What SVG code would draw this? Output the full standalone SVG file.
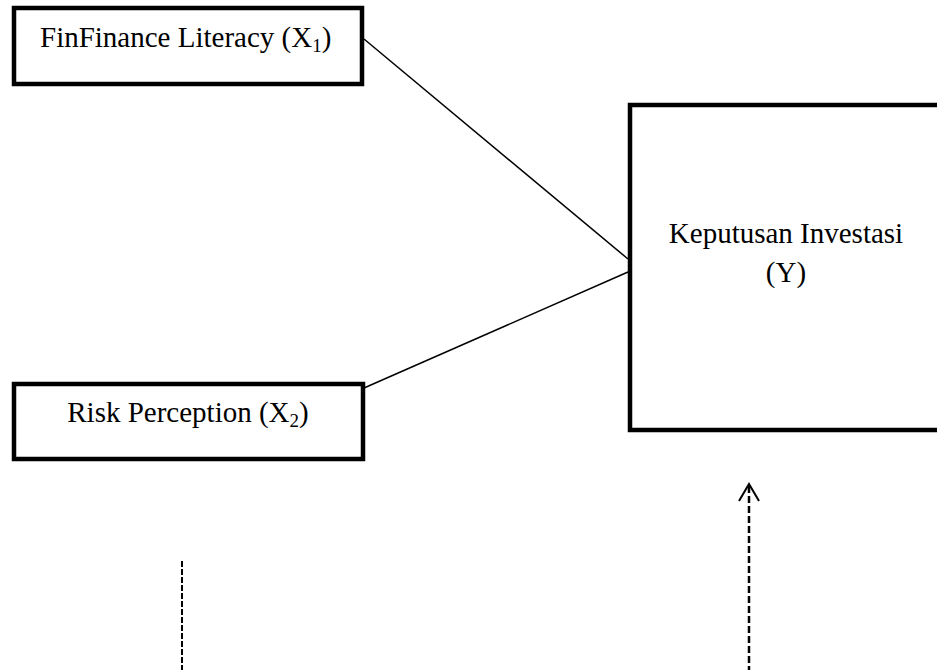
<svg xmlns="http://www.w3.org/2000/svg" width="937" height="670" viewBox="0 0 937 670">
<style>
.box{fill:#fff;stroke:#000;stroke-width:4.5}
.t{font-family:"Liberation Serif","Times New Roman",serif;font-size:29px;fill:#000}
.conn{stroke:#000;stroke-width:1.5;fill:none}
</style>
<rect width="937" height="670" fill="#fff"/>
<g id="connectors">
<line class="conn" x1="364" y1="39" x2="628" y2="259"/>
<line class="conn" x1="364" y1="388" x2="628" y2="272"/>
<line x1="182" y1="561" x2="182" y2="670" stroke="#000" stroke-width="2" stroke-dasharray="6,2"/>
<line x1="749" y1="486" x2="749" y2="670" stroke="#000" stroke-width="2.5" stroke-dasharray="7,3"/>
<polyline points="739,501 749,484 759,501" fill="none" stroke="#000" stroke-width="2"/>
</g>
<g id="x1">
<rect class="box" x="14" y="8" width="348" height="76"/>
<text class="t" x="40" y="47">FinFinance Literacy (X<tspan font-size="19" dy="5">1</tspan><tspan dy="-5">)</tspan></text>
</g>
<g id="x2">
<rect class="box" x="14" y="384" width="349" height="75"/>
<text class="t" x="188" y="422" text-anchor="middle">Risk Perception (X<tspan font-size="19" dy="5">2</tspan><tspan dy="-5">)</tspan></text>
</g>
<g id="y">
<rect class="box" x="630" y="105" width="330" height="325"/>
<text class="t" x="786" y="243" text-anchor="middle">Keputusan Investasi</text>
<text class="t" x="786" y="282" text-anchor="middle">(Y)</text>
</g>
</svg>
